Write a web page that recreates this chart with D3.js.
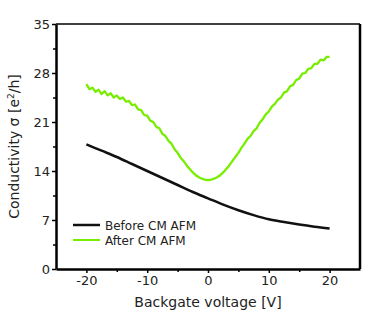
<!DOCTYPE html>
<html>
<head>
<meta charset="utf-8">
<script src="https://cdn.jsdelivr.net/npm/d3@7"></script>
<style>
  body { margin: 0; background: #fff; }
  text { font-family: "DejaVu Sans", Verdana, sans-serif; fill: #222; }
</style>
</head>
<body>
<div id="chart"></div>
<script>
// before CM AFM, sampled every 2.5 V
var beforeV = [-20, -17.5, -15, -12.5, -10, -7.5, -5, -2.5, 0, 2.5, 5, 7.5, 10, 12.5, 15, 17.5, 20];
var beforeS = [17.8, 16.9, 16.0, 15.0, 14.0, 13.0, 12.0, 11.0, 10.1, 9.2, 8.4, 7.7, 7.1, 6.7, 6.35, 6.05, 5.8];

// after CM AFM, every 0.5 V (noisy trace)
var afterV = [];
for (var v = -20; v <= 20.001; v += 0.5) afterV.push(+v.toFixed(1));
var afterS = [26.4, 25.7, 25.9, 25.3, 25.6, 25.0, 25.4, 24.8, 25.1, 24.5,
              24.8, 24.3, 24.5, 23.9, 24.0, 23.4, 23.5, 22.8, 22.7, 22.0,
              21.9, 21.2, 21.0, 20.3, 20.1, 19.3, 19.0, 18.3, 17.9, 17.1,
              16.6, 15.9, 15.4, 14.8, 14.3, 13.8, 13.4, 13.1, 12.9, 12.75,
              12.7, 12.75, 12.9, 13.1, 13.4, 13.8, 14.3, 14.8, 15.4, 16.0,
              16.6, 17.3, 17.9, 18.6, 19.0, 19.7, 20.1, 20.9, 21.4, 22.1,
              22.5, 23.2, 23.6, 24.2, 24.5, 25.2, 25.4, 26.1, 26.3, 27.0,
              27.2, 27.9, 28.0, 28.6, 28.7, 29.3, 29.3, 29.9, 29.8, 30.3, 30.3];

var xTicks = [-20, -10, 0, 10, 20];
var xMinor = [-15, -5, 5, 15];
var yTicks = [0, 7, 14, 21, 28, 35];
var yMinor = [3.5, 10.5, 17.5, 24.5, 31.5];

var legendNames = ["Before CM AFM", "After CM AFM"];
var legendColors = ["#111", "#77ee00"];

var width = 381, height = 313;
var mLeft = 56, mRight = 360, mTop = 24, mBottom = 269;

var svg = d3.select("#chart").append("svg")
    .attr("width", width)
    .attr("height", height);

var x = d3.scaleLinear().domain([-25, 25]).range([mLeft, mRight]);
var y = d3.scaleLinear().domain([0, 35]).range([mBottom, mTop]);
var plain = function (d) { return String(d); };

// frame
svg.append("line").attr("x1", mLeft).attr("x2", mRight).attr("y1", mTop).attr("y2", mTop)
    .attr("stroke", "#000").attr("stroke-width", 1.5);
svg.append("line").attr("x1", mRight).attr("x2", mRight).attr("y1", mTop).attr("y2", mBottom)
    .attr("stroke", "#000").attr("stroke-width", 2.5);

svg.append("g")
    .attr("transform", "translate(0," + mBottom + ")")
    .call(d3.axisBottom(x).tickValues(xTicks).tickFormat(plain).tickSize(4).tickPadding(3).tickSizeOuter(0));
svg.append("g")
    .attr("transform", "translate(0," + mBottom + ")")
    .call(d3.axisBottom(x).tickValues(xMinor).tickSize(3).tickFormat("").tickSizeOuter(0))
    .select(".domain").remove();

svg.append("g")
    .attr("transform", "translate(" + mLeft + ",0)")
    .call(d3.axisLeft(y).tickValues(yTicks).tickFormat(plain).tickSize(4).tickPadding(2).tickSizeOuter(0));
svg.append("g")
    .attr("transform", "translate(" + mLeft + ",0)")
    .call(d3.axisLeft(y).tickValues(yMinor).tickSize(3).tickFormat("").tickSizeOuter(0))
    .select(".domain").remove();

svg.selectAll(".domain").attr("stroke", "#000").attr("stroke-width", 2.5);
svg.selectAll(".tick line").attr("stroke", "#000").attr("stroke-width", 1.5);
svg.selectAll(".tick text").style("font-size", "13px").attr("fill", "#222");

// lines
var lineBefore = d3.line()
    .x(function (d, i) { return x(beforeV[i]); })
    .y(function (d) { return y(d); })
    .curve(d3.curveMonotoneX);
var lineAfter = d3.line()
    .x(function (d, i) { return x(afterV[i]); })
    .y(function (d) { return y(d); });

svg.append("path").datum(afterS)
    .attr("d", lineAfter)
    .attr("fill", "none")
    .attr("stroke", legendColors[1])
    .attr("stroke-width", 2.3)
    .attr("stroke-linejoin", "round");

svg.append("path").datum(beforeS)
    .attr("d", lineBefore)
    .attr("fill", "none")
    .attr("stroke", legendColors[0])
    .attr("stroke-width", 2.5);

// axis titles
svg.append("text")
    .attr("x", (mLeft + mRight) / 2)
    .attr("y", 307)
    .attr("text-anchor", "middle")
    .style("font-size", "14px")
    .text("Backgate voltage [V]");

svg.append("text")
    .attr("transform", "translate(19," + (mTop + mBottom) / 2 + ") rotate(-90)")
    .attr("text-anchor", "middle")
    .style("font-size", "14px")
    .html("Conductivity σ [e<tspan dy='-5' style='font-size:9px'>2</tspan><tspan dy='5'>/h]</tspan>");

// legend
var legend = svg.selectAll(".legend")
    .data(legendNames)
    .enter().append("g")
    .attr("transform", function (d, i) { return "translate(73," + (225 + i * 15) + ")"; });
legend.append("line")
    .attr("x1", 0).attr("x2", 27)
    .attr("stroke", function (d, i) { return legendColors[i]; })
    .attr("stroke-width", function (d, i) { return i == 0 ? 2.5 : 2; });
legend.append("text")
    .attr("x", 32).attr("y", 4.5)
    .style("font-size", "12px")
    .text(function (d) { return d; });
</script>
</body>
</html>
